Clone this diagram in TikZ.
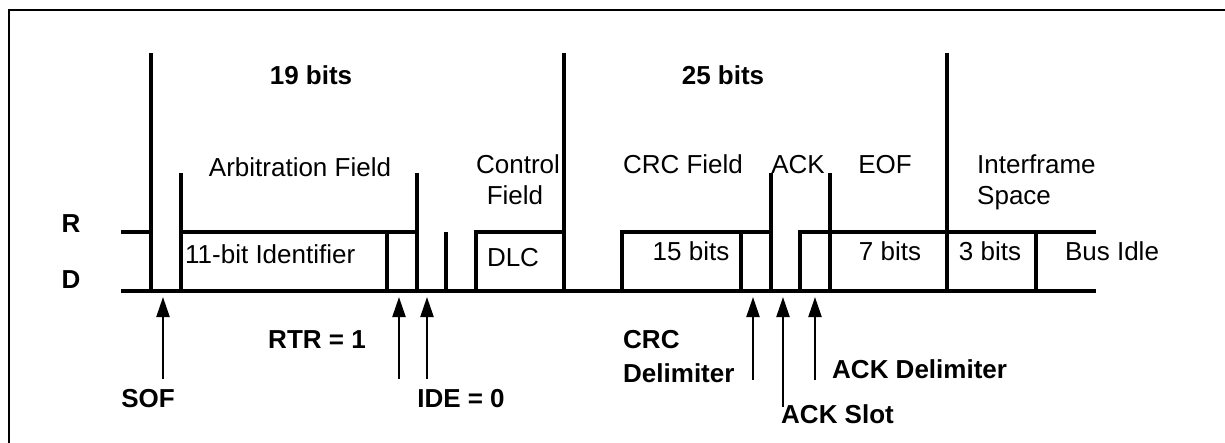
\documentclass[tikz,border=0pt]{standalone}
\usepackage{fontspec}
\setmainfont{Liberation Sans}
\usetikzlibrary{arrows.meta}
\begin{document}
\begin{tikzpicture}[x=1pt,y=-1pt,
  every node/.style={font=\fontsize{26}{31}\selectfont, inner sep=0pt, anchor=base},
  bold/.style={font=\fontsize{26}{31}\selectfont\bfseries},
  sig/.style={line width=3.4pt, line join=miter},
  frame/.style={line width=2.2pt},
  pointer/.style={line width=2.2pt, -{Triangle[length=20pt,width=13pt]}}]
\useasboundingbox (0,0) rectangle (1225,442);
% frame
\draw[frame] (9,450) -- (9,10) -- (1230,10);
% signal lines
\draw[sig] (121,291) -- (1096,291);
\draw[sig] (121,232) -- (151,232);
\draw[sig] (151,53) -- (151,291);
\draw[sig] (181,173) -- (181,291);
\draw[sig] (181,232) -- (417,232);
\draw[sig] (387,232) -- (387,291);
\draw[sig] (417,173) -- (417,291);
\draw[sig] (446,232) -- (446,291);
\draw[sig] (476,291) -- (476,232) -- (564,232);
\draw[sig] (564,53) -- (564,291);
\draw[sig] (622,291) -- (622,232) -- (771,232);
\draw[sig] (741,232) -- (741,291);
\draw[sig] (771,173) -- (771,291);
\draw[sig] (800,291) -- (800,232) -- (1096,232);
\draw[sig] (830,173) -- (830,291);
\draw[sig] (947,53) -- (947,291);
\draw[sig] (1036,232) -- (1036,291);
% top labels
\node[bold] (b19) at (311,84) {19 bits};
\node[bold] (b25) at (723,84) {25 bits};
\node (arb) at (300,176) {Arbitration Field};
\node (ctl1) at (518,173) {Control};
\node (ctl2) at (515,204) {Field};
\node (crcf) at (683,173) {CRC Field};
\node (ack) at (798,173) {ACK};
\node (eof) at (885,173) {EOF};
\node[anchor=base west] (ifs1) at (977,173) {Interframe};
\node[anchor=base west] (ifs2) at (977,204) {Space};
% level labels
\node[bold] (R) at (71,232) {R};
\node[bold] (D) at (71,288) {D};
% in-bus labels
\node[anchor=base west] (id) at (185,263) {11-bit Identifier};
\node (dlc) at (513,266) {DLC};
\node (b15) at (691,260) {15 bits};
\node (b7) at (890,260) {7 bits};
\node (b3) at (990,260) {3 bits};
\node (idle) at (1112,260) {Bus Idle};
% bottom labels
\node[bold] (rtr) at (317,348) {RTR = 1};
\node[bold] (sof) at (148,407) {SOF};
\node[bold] (ide) at (461,407) {IDE = 0};
\node[bold, anchor=base west] (crcd1) at (623,348) {CRC};
\node[bold, anchor=base west] (crcd2) at (623,382) {Delimiter};
\node[bold, anchor=base west] (ackd) at (832,378) {ACK Delimiter};
\node[bold, anchor=base west] (acks) at (781,423) {ACK Slot};
% arrows
\coordinate (sofA) at (163,379); \coordinate (sofB) at (163,297);
\coordinate (rtrA) at (399,379); \coordinate (rtrB) at (399,297);
\coordinate (ideA) at (427,379); \coordinate (ideB) at (427,297);
\coordinate (crcA) at (753,380); \coordinate (crcB) at (753,297);
\coordinate (acksA) at (783,407); \coordinate (acksB) at (783,297);
\coordinate (ackdA) at (815,380); \coordinate (ackdB) at (815,297);
\draw[pointer] (sofA) -- (sofB);
\draw[pointer] (rtrA) -- (rtrB);
\draw[pointer] (ideA) -- (ideB);
\draw[pointer] (crcA) -- (crcB);
\draw[pointer] (acksA) -- (acksB);
\draw[pointer] (ackdA) -- (ackdB);
\end{tikzpicture}
\end{document}
